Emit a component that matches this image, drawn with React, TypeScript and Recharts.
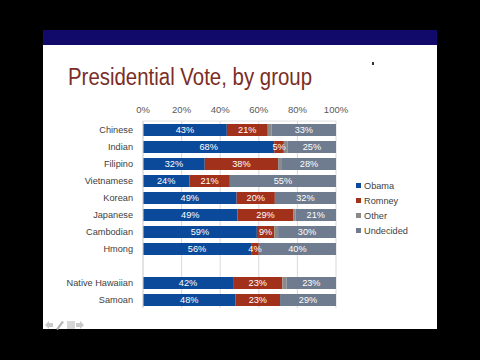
import React from 'react';
import { BarChart, Bar, XAxis, YAxis, CartesianGrid, LabelList } from 'recharts';

const categories = ['Chinese', 'Indian', 'Filipino', 'Vietnamese', 'Korean', 'Japanese', 'Cambodian', 'Hmong', '', 'Native Hawaiian', 'Samoan'];
const obama = [43, 68, 32, 24, 49, 49, 59, 56, 0, 42, 48];
const romney = [21, 5, 38, 21, 20, 29, 9, 4, 0, 23, 23];
const other = [2, 2, 2, 0, 0, 1, 2, 0, 0, 2, 0];
const undecided = [33, 25, 28, 55, 32, 21, 30, 40, 0, 23, 29];

const seriesKeys = ['obama', 'romney', 'other', 'undecided'];
const seriesNames = ['Obama', 'Romney', 'Other', 'Undecided'];
const seriesColors = ['#0b4a9a', '#a2311b', '#8a8a8a', '#6f7b8e'];
const labelled = [true, true, false, true];
const xTicks = [0, 0.2, 0.4, 0.6, 0.8, 1];
const titleText = 'Presidential Vote, by group';

const data = categories.map((name, i) => ({
  name,
  obama: obama[i],
  romney: romney[i],
  other: other[i],
  undecided: undecided[i],
}));

const fmt = (v: any) => (v ? `${v}%` : '');
const FONT = '"Liberation Sans", Arial, sans-serif';

export default function App() {
  return (
    <div style={{ position: 'fixed', left: 0, top: 0, width: 480, height: 360, background: '#000', overflow: 'hidden', fontFamily: FONT }}>
      <div style={{ position: 'absolute', left: 43, top: 30, width: 394, height: 299, background: '#fff' }} />
      <div style={{ position: 'absolute', left: 43, top: 30, width: 394, height: 15, background: '#110a6b' }} />
      <svg width={480} height={100} style={{ position: 'absolute', left: 0, top: 0 }}>
        <text x={68} y={85} fontSize={23} fill="#7a2e26" textLength={244} lengthAdjust="spacingAndGlyphs" fontFamily={FONT}>
          {titleText}
        </text>
        <rect x={372} y={62} width={2} height={3} fill="#333" />
      </svg>
      <svg width={50} height={12} style={{ position: 'absolute', left: 44, top: 319 }}>
        <polygon points="1,6 5,2 5,4 9,4 9,8 5,8 5,10" fill="#c9c9c9" />
        <polygon points="12,10 18,2 20,3 14,11" fill="#b5b5b5" />
        <rect x={23} y={2} width={8} height={8} fill="#d6d6d6" />
        <polygon points="40,6 36,2 36,4 32,4 32,8 36,8 36,10" fill="#c9c9c9" />
      </svg>
      <BarChart
        width={480}
        height={360}
        data={data}
        layout="vertical"
        stackOffset="expand"
        margin={{ top: 100, right: 144, bottom: 52, left: 0 }}
        barSize={12}
        style={{ position: 'absolute', left: 0, top: 0 }}
      >
        <CartesianGrid horizontal={false} stroke="#d9d9d9" />
        <XAxis
          type="number"
          orientation="top"
          domain={[0, 1]}
          ticks={xTicks}
          interval={0}
          tickFormatter={(v: number) => `${Math.round(v * 100)}%`}
          tick={{ fontSize: 9.5, fill: '#595959', fontFamily: FONT }}
          axisLine={{ stroke: '#e0e0e0' }}
          tickLine={false}
          height={21}
        />
        <YAxis
          type="category"
          dataKey="name"
          width={143}
          interval={0}
          tick={{ fontSize: 9.2, fill: '#404040', fontFamily: FONT }}
          axisLine={{ stroke: '#d9d9d9' }}
          tickLine={false}
          tickSize={8}
          tickMargin={2}
        />
        {seriesKeys.map((k, i) => (
          <Bar key={k} dataKey={k} name={seriesNames[i]} stackId="a" fill={seriesColors[i]} isAnimationActive={false}>
            {labelled[i] ? (
              <LabelList dataKey={k} position="center" formatter={fmt} fill="#fff" fontSize={9.2} fontFamily={FONT} />
            ) : null}
          </Bar>
        ))}
      </BarChart>
      <div style={{ position: 'absolute', left: 356, top: 178 }}>
        {seriesNames.map((n, i) => (
          <div key={n} style={{ display: 'flex', alignItems: 'center', height: 15, fontSize: 9.2, color: '#404040', whiteSpace: 'nowrap' }}>
            <span style={{ display: 'inline-block', width: 5, height: 5, background: seriesColors[i], marginRight: 3 }} />
            {n}
          </div>
        ))}
      </div>
    </div>
  );
}
